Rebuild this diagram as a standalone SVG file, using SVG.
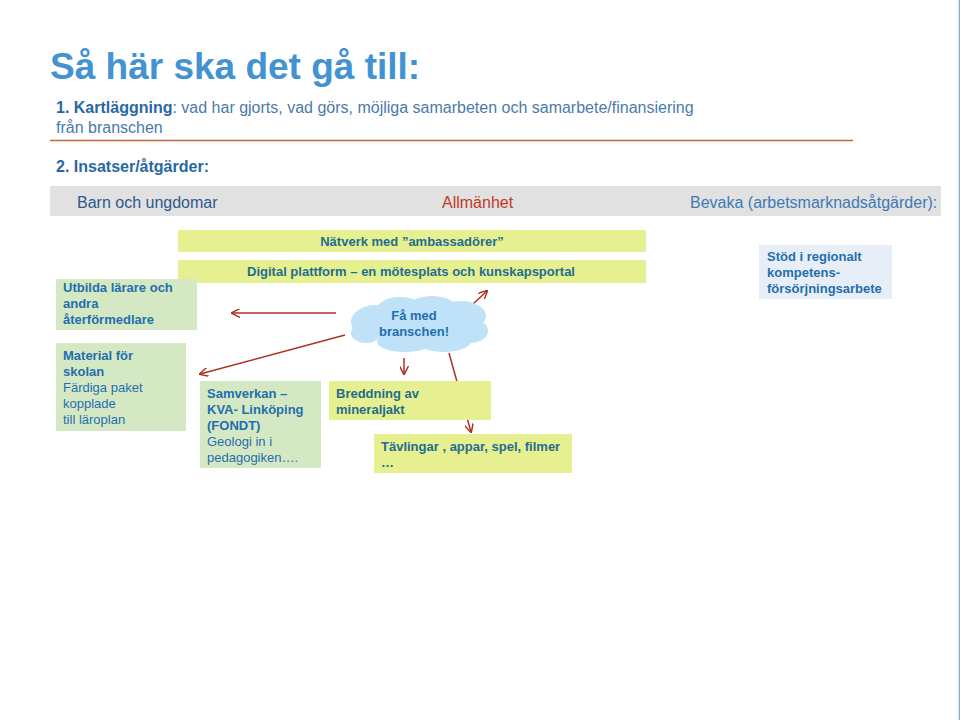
<svg xmlns="http://www.w3.org/2000/svg" width="960" height="720" viewBox="0 0 960 720">
<defs>
<marker id="ah" viewBox="0 0 10 10" refX="9" refY="5" markerWidth="9" markerHeight="9" markerUnits="userSpaceOnUse" orient="auto">
<path d="M0,0 L10,5 L0,10" fill="none" stroke="#b0301e" stroke-width="1.6"/>
</marker>
<style>
text{font-family:"Liberation Sans",Arial,sans-serif}
.t13{font-size:13px}
.b{font-weight:bold}
.green{fill:#d5e8c4}
.yellow{fill:#e6f091}
.blueTxt{fill:#1f6fae}
.tealTxt{fill:#1f6d8e}
.conn{stroke:#b0301e;stroke-width:1.5;fill:none}
</style>
</defs>
<rect width="960" height="720" fill="#ffffff"/>
<line x1="959.3" y1="0" x2="959.3" y2="720" stroke="#8eaabb" stroke-width="1.3"/>

<g id="title">
<text x="50" y="79" font-size="37" font-weight="bold" fill="#4393d2">Så här ska det gå till:</text>
</g>
<g id="step1">
<text x="56" y="113" font-size="16" fill="#4a7bab"><tspan font-weight="bold" fill="#2868a3">1. Kartläggning</tspan>: vad har gjorts, vad görs, möjliga samarbeten och samarbete/finansiering</text>
<text x="56" y="133" font-size="16" fill="#4a7bab">från branschen</text>
<line x1="50" y1="140.5" x2="853" y2="140.5" stroke="#c8643c" stroke-width="1.5"/>
</g>
<g id="step2">
<text x="56" y="172" font-size="16" font-weight="bold" fill="#2868a3">2. Insatser/åtgärder:</text>
</g>
<g id="band">
<rect x="50" y="186" width="891" height="30" fill="#e1e1e1"/>
<text x="77" y="208" font-size="16" fill="#2b5a8c">Barn och ungdomar</text>
<text x="442" y="208" font-size="16" fill="#c0392b">Allmänhet</text>
<text x="690" y="208" font-size="16" fill="#3d7ab5">Bevaka (arbetsmarknadsåtgärder):</text>
</g>

<g id="connectors">
<line class="conn" x1="336" y1="313" x2="232" y2="313" marker-end="url(#ah)"/>
<line class="conn" x1="345" y1="335" x2="200" y2="374" marker-end="url(#ah)"/>
<line class="conn" x1="472" y1="305" x2="487" y2="291" marker-end="url(#ah)"/>
<line class="conn" x1="404" y1="358" x2="404" y2="374" marker-end="url(#ah)"/>
<line class="conn" x1="449" y1="353" x2="471" y2="432" marker-end="url(#ah)"/>
</g>

<g id="natverk">
<rect class="yellow" x="178" y="230" width="468" height="22"/>
<text class="t13 b tealTxt" x="412" y="246" text-anchor="middle">Nätverk med ”ambassadörer”</text>
</g>
<g id="digital">
<rect class="yellow" x="178" y="260" width="468" height="23"/>
<text class="t13 b tealTxt" x="411" y="276" text-anchor="middle">Digital plattform – en mötesplats och kunskapsportal</text>
</g>
<g id="utbilda">
<rect class="green" x="56" y="279" width="141" height="51"/>
<text class="t13 b blueTxt" x="63" y="292">Utbilda lärare och</text>
<text class="t13 b blueTxt" x="63" y="308">andra</text>
<text class="t13 b blueTxt" x="63" y="324">återförmedlare</text>
</g>
<g id="material">
<rect class="green" x="56" y="343" width="130" height="88"/>
<text class="t13 b blueTxt" x="63" y="360">Material för</text>
<text class="t13 b blueTxt" x="63" y="376">skolan</text>
<text class="t13 blueTxt" x="63" y="392">Färdiga paket</text>
<text class="t13 blueTxt" x="63" y="408">kopplade</text>
<text class="t13 blueTxt" x="63" y="424">till läroplan</text>
</g>
<g id="samverkan">
<rect class="green" x="200" y="381" width="121" height="87"/>
<text class="t13 b blueTxt" x="207" y="398">Samverkan –</text>
<text class="t13 b blueTxt" x="207" y="414">KVA- Linköping</text>
<text class="t13 b blueTxt" x="207" y="430">(FONDT)</text>
<text class="t13 blueTxt" x="207" y="446">Geologi in i</text>
<text class="t13 blueTxt" x="207" y="462">pedagogiken….</text>
</g>
<g id="breddning">
<rect class="yellow" x="329" y="381" width="162" height="39"/>
<text class="t13 b tealTxt" x="336" y="398">Breddning av</text>
<text class="t13 b tealTxt" x="336" y="414">mineraljakt</text>
</g>
<g id="tavlingar">
<rect class="yellow" x="374" y="434" width="198" height="39"/>
<text class="t13 b tealTxt" x="381" y="451">Tävlingar , appar, spel, filmer</text>
<text class="t13 b tealTxt" x="381" y="467">…</text>
</g>
<g id="cloud">
<g fill="#bfe2f8">
<ellipse cx="376" cy="322" rx="25" ry="17"/>
<ellipse cx="400" cy="311" rx="24" ry="14"/>
<ellipse cx="432" cy="308" rx="24" ry="12"/>
<ellipse cx="461" cy="316" rx="25" ry="15"/>
<ellipse cx="470" cy="331" rx="18" ry="12"/>
<ellipse cx="444" cy="340" rx="28" ry="12"/>
<ellipse cx="405" cy="342" rx="28" ry="10"/>
<ellipse cx="366" cy="333" rx="15" ry="10"/>
<ellipse cx="420" cy="326" rx="50" ry="20"/>
</g>
<text class="t13 b blueTxt" x="414" y="320" text-anchor="middle">Få med</text>
<text class="t13 b blueTxt" x="414" y="336" text-anchor="middle">branschen!</text>
</g>
<g id="stod">
<rect x="759" y="245" width="133" height="54" fill="#e8eef7"/>
<text class="t13 b blueTxt" x="767" y="261">Stöd i regionalt</text>
<text class="t13 b blueTxt" x="767" y="277">kompetens-</text>
<text class="t13 b blueTxt" x="767" y="293">försörjningsarbete</text>
</g>
</svg>
